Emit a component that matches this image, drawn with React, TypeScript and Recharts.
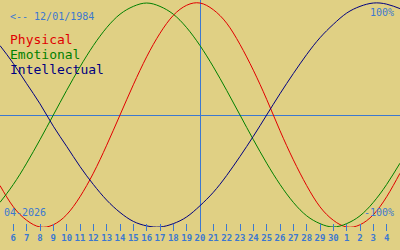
import { Line, LineChart, ReferenceLine, XAxis, YAxis } from "recharts";

// days of April 2026 (31+ = May)
const days = [5, 6, 7, 8, 9, 10, 11, 12, 13, 14, 15, 16, 17, 18, 19, 20, 21, 22, 23, 24, 25, 26, 27, 28, 29, 30, 31, 32, 33, 34, 35];

const physical = [-0.63, -0.82, -0.94, -1.0, -0.98, -0.89, -0.73, -0.52, -0.27, 0, 0.27, 0.52, 0.73, 0.89, 0.98, 1.0, 0.94, 0.82, 0.63, 0.4, 0.14, -0.14, -0.4, -0.63, -0.82, -0.94, -1.0, -0.98, -0.89, -0.73, -0.52];
const emotional = [-0.78, -0.62, -0.43, -0.22, 0, 0.22, 0.43, 0.62, 0.78, 0.9, 0.97, 1.0, 0.97, 0.9, 0.78, 0.62, 0.43, 0.22, 0, -0.22, -0.43, -0.62, -0.78, -0.9, -0.97, -1.0, -0.97, -0.9, -0.78, -0.62, -0.43];
const intellectual = [0.62, 0.46, 0.28, 0.1, -0.1, -0.28, -0.46, -0.62, -0.76, -0.87, -0.95, -0.99, -1.0, -0.97, -0.91, -0.81, -0.69, -0.54, -0.37, -0.19, 0, 0.19, 0.37, 0.54, 0.69, 0.81, 0.91, 0.97, 1.0, 0.99, 0.95];

const tickDays = [6, 7, 8, 9, 10, 11, 12, 13, 14, 15, 16, 17, 18, 19, 20, 21, 22, 23, 24, 25, 26, 27, 28, 29, 30, 31, 32, 33, 34];
const tickLabels = ["6", "7", "8", "9", "10", "11", "12", "13", "14", "15", "16", "17", "18", "19", "20", "21", "22", "23", "24", "25", "26", "27", "28", "29", "30", "1", "2", "3", "4"];

const today = 20;
const birthLabel = "<-- 12/01/1984";
const monthLabel = "04-2026";

const data = days.map((d, i) => ({
  day: d,
  physical: physical[i],
  emotional: emotional[i],
  intellectual: intellectual[i],
}));

const BG = "#e0d084";
const BLUE = "#3c78d0";
const MONO = "'DejaVu Sans Mono', monospace";

function DayTick(props: any) {
  const { x, y, payload } = props;
  const label = tickLabels[tickDays.indexOf(payload.value)];
  return (
    <g>
      <line x1={x} x2={x} y1={y - 3} y2={y + 4} stroke={BLUE} strokeWidth={1} shapeRendering="crispEdges" />
      <text
        x={x}
        y={y + 14}
        textAnchor="middle"
        fill={BLUE}
        fontFamily={MONO}
        fontWeight="bold"
        fontSize={9}
      >
        {label}
      </text>
    </g>
  );
}

export default function App() {
  return (
    <div
      style={{
        position: "fixed",
        left: 0,
        top: 0,
        width: 400,
        height: 250,
        background: BG,
        overflow: "hidden",
      }}
    >
      <LineChart
        width={400}
        height={250}
        data={data}
        margin={{ top: 0, right: 0, bottom: 0, left: 0 }}
      >
        <XAxis
          dataKey="day"
          type="number"
          domain={[5, 35]}
          ticks={tickDays}
          axisLine={false}
          tickLine={false}
          tickSize={0}
          tickMargin={0}
          height={23}
          tick={<DayTick />}
          interval={0}
        />
        <YAxis type="number" domain={[-1, 1.027]} hide allowDataOverflow />
        <ReferenceLine y={0} stroke={BLUE} strokeWidth={1} shapeRendering="crispEdges" />
        <ReferenceLine
          segment={[
            { x: today, y: -1.045 },
            { x: today, y: 1.03 },
          ]}
          stroke={BLUE}
          strokeWidth={1}
          shapeRendering="crispEdges"
          ifOverflow="visible"
        />
        <Line type="natural" dataKey="physical" stroke="#e00000" strokeWidth={1} dot={false} activeDot={false} isAnimationActive={false} />
        <Line type="natural" dataKey="emotional" stroke="#008000" strokeWidth={1} dot={false} activeDot={false} isAnimationActive={false} />
        <Line type="natural" dataKey="intellectual" stroke="#000080" strokeWidth={1} dot={false} activeDot={false} isAnimationActive={false} />
      </LineChart>
      <svg
        width={400}
        height={250}
        style={{ position: "absolute", left: 0, top: 0, pointerEvents: "none" }}
        fontFamily={MONO}
      >
        <text x={10} y={20} fontSize={10} fill={BLUE}>{birthLabel}</text>
        <text x={10} y={44} fontSize={13} fill="#e00000">Physical</text>
        <text x={10} y={59} fontSize={13} fill="#008000">Emotional</text>
        <text x={10} y={74} fontSize={13} fill="#000080">Intellectual</text>
        <text x={394} y={16} fontSize={10} fill={BLUE} textAnchor="end">100%</text>
        <text x={394} y={216} fontSize={10} fill={BLUE} textAnchor="end">-100%</text>
        <text x={4} y={216} fontSize={10} fill={BLUE}>{monthLabel}</text>
      </svg>
    </div>
  );
}
